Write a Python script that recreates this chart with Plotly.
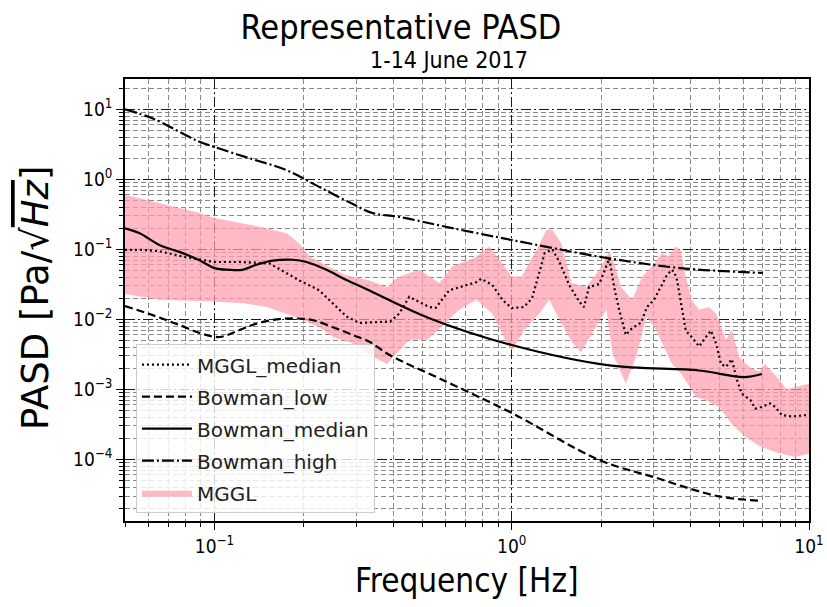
import plotly.graph_objects as go

# ---------------- data ----------------
bow_high_f = [0.05, 0.062, 0.087, 0.1, 0.131, 0.174, 0.225, 0.29, 0.34, 0.42, 0.6, 1.0, 2.1, 3.7, 7.0]
bow_high_v = [10, 7.4, 3.6, 2.9, 2.0, 1.36, 0.78, 0.45, 0.33, 0.29, 0.21, 0.136, 0.075, 0.054, 0.046]

bow_med_f = [0.05, 0.056, 0.0653, 0.0762, 0.089, 0.1, 0.112, 0.124, 0.138, 0.157, 0.183, 0.204,
             0.238, 0.278, 0.325, 0.528, 1.0, 2.13, 4.27, 6.04, 6.95]
bow_med_v = [0.2, 0.17, 0.115, 0.092, 0.070, 0.054, 0.051, 0.051, 0.060, 0.069, 0.071, 0.066,
             0.051, 0.0364, 0.027, 0.0104, 0.0043, 0.0022, 0.00186, 0.0015, 0.00166]

bow_low_f = [0.05, 0.0619, 0.0762, 0.091, 0.104, 0.118, 0.134, 0.157, 0.183, 0.213, 0.249, 0.291,
             0.332, 0.388, 0.6, 1.0, 1.97, 3.0, 4.98, 6.9]
bow_low_v = [0.0155, 0.0115, 0.0083, 0.0062, 0.0056, 0.0067, 0.0083, 0.0098, 0.0103, 0.0098, 0.0078,
             0.006, 0.0048, 0.0031, 0.0013, 0.00046, 9.8e-5, 5.6e-5, 2.96e-5, 2.57e-5]

mggl_med_f = [0.05, 0.058, 0.0653, 0.079, 0.1, 0.121, 0.153, 0.172, 0.193, 0.225, 0.25, 0.278, 0.307,
              0.39, 0.419, 0.452, 0.528, 0.555, 0.616, 0.666, 0.76, 0.79, 0.86, 0.93, 1.0, 1.10,
              1.17, 1.237, 1.29, 1.37, 1.444, 1.56, 1.686, 1.75, 1.82, 1.97, 2.04, 2.13, 2.21, 2.30,
              2.42, 2.54, 2.72, 2.85, 3.01, 3.18, 3.31, 3.44, 3.52, 3.60, 3.74, 3.85, 4.03, 4.27,
              4.50, 4.68, 4.87, 5.06, 5.26, 5.50, 5.71, 5.94, 6.36, 6.6, 6.9, 7.4, 7.7, 8.1, 8.75, 9.8]
mggl_med_v = [0.098, 0.098, 0.094, 0.078, 0.066, 0.066, 0.063, 0.047, 0.036, 0.026, 0.0168, 0.011,
              0.0089, 0.0093, 0.0122, 0.021, 0.015, 0.0146, 0.026, 0.029, 0.034, 0.038, 0.031, 0.019,
              0.0145, 0.015, 0.02, 0.046, 0.088, 0.1, 0.067, 0.031, 0.018, 0.015, 0.029, 0.032, 0.047,
              0.074, 0.029, 0.0135, 0.006, 0.0075, 0.0089, 0.015, 0.019, 0.029, 0.041, 0.051, 0.048,
              0.036, 0.015, 0.0069, 0.0056, 0.0041, 0.0056, 0.0069, 0.0045, 0.0023, 0.0021, 0.0027,
              0.0014, 0.00087, 0.0007, 0.00053, 0.00056, 0.00063, 0.00056, 0.00043, 0.00041, 0.00043]

band_up_f = [0.05, 0.0653, 0.089, 0.1, 0.142, 0.175, 0.193, 0.21, 0.244, 0.275, 0.332, 0.38, 0.419,
             0.489, 0.571, 0.63, 0.76, 0.84, 0.93, 1.0, 1.08, 1.21, 1.31, 1.37, 1.47, 1.59, 1.78,
             1.97, 2.13, 2.23, 2.33, 2.54, 2.75, 2.96, 3.2, 3.38, 3.56, 3.7, 3.85, 4.03, 4.27, 4.61,
             4.87, 5.26, 5.5, 5.82, 6.28, 6.79, 7.1, 7.93, 8.4, 9.26, 10.0]
band_up_v = [0.6, 0.46, 0.33, 0.28, 0.21, 0.17, 0.12, 0.078, 0.056, 0.043, 0.036, 0.029, 0.041,
             0.051, 0.033, 0.057, 0.078, 0.11, 0.063, 0.041, 0.041, 0.098, 0.19, 0.19, 0.12, 0.033,
             0.029, 0.051, 0.093, 0.057, 0.029, 0.019, 0.041, 0.057, 0.088, 0.08, 0.11, 0.098, 0.041,
             0.019, 0.0137, 0.015, 0.012, 0.0051, 0.0071, 0.0029, 0.0021, 0.0018, 0.0023, 0.0014,
             0.001, 0.0011, 0.0012]

band_lo_f = [0.05, 0.065, 0.1, 0.125, 0.15, 0.185, 0.225, 0.25, 0.29, 0.32, 0.38, 0.452, 0.52, 0.58,
             0.666, 0.76, 0.86, 0.95, 1.0, 1.1, 1.237, 1.336, 1.444, 1.6, 1.71, 1.86, 2.08, 2.18,
             2.42, 2.62, 2.84, 3.06, 3.46, 3.74, 4.18, 4.5, 4.98, 5.5, 6.1, 6.9, 7.93, 9.0, 10.0]
band_lo_v = [0.023, 0.019, 0.018, 0.017, 0.015, 0.011, 0.0078, 0.0056, 0.0046, 0.0034, 0.0023,
             0.0051, 0.0051, 0.0078, 0.0137, 0.019, 0.012, 0.0051, 0.0036, 0.007, 0.012, 0.019, 0.01,
             0.0046, 0.0034, 0.0063, 0.0137, 0.0033, 0.0012, 0.0029, 0.011, 0.007, 0.0023, 0.0016,
             0.00077, 0.0007, 0.00056, 0.00032, 0.00021, 0.00015, 0.000122, 0.000108, 0.00012]

x_tick_vals = [0.1, 1, 10]
x_tick_text = ["10<sup>\u22121</sup>", "10<sup>0</sup>", "10<sup>1</sup>"]
y_tick_vals = [1e-4, 1e-3, 1e-2, 1e-1, 1, 10]
y_tick_text = ["10<sup>\u22124</sup>", "10<sup>\u22123</sup>", "10<sup>\u22122</sup>",
               "10<sup>\u22121</sup>", "10<sup>0</sup>", "10<sup>1</sup>"]
x_minor = [m * 10 ** e for e in (-2, -1, 0) for m in range(2, 10)]
y_minor = [m * 10 ** e for e in range(-5, 2) for m in range(2, 10)]

FONT = "DejaVu Sans"
CFONT = "DejaVu Sans Condensed, DejaVu Sans"

fig = go.Figure()
fig.add_trace(go.Scatter(
    x=band_up_f + band_lo_f[::-1], y=band_up_v + band_lo_v[::-1],
    fill="toself", fillcolor="rgba(255,158,175,0.72)", line=dict(width=0, color="rgba(0,0,0,0)"),
    mode="lines", name="MGGL", legendrank=5, legendgroup="e", hoverinfo="skip"))
fig.add_trace(go.Scatter(x=mggl_med_f, y=mggl_med_v, mode="lines", name="MGGL_median",
                         line=dict(color="black", width=2.2, dash="2px,3px"), legendrank=1, legendgroup="a"))
fig.add_trace(go.Scatter(x=bow_low_f, y=bow_low_v, mode="lines", name="Bowman_low", line_shape="spline",
                         line=dict(color="black", width=2.2, dash="8px,4px"), legendrank=2, legendgroup="b"))
fig.add_trace(go.Scatter(x=bow_med_f, y=bow_med_v, mode="lines", name="Bowman_median", line_shape="spline",
                         line=dict(color="black", width=2.2), legendrank=3, legendgroup="c"))
fig.add_trace(go.Scatter(x=bow_high_f, y=bow_high_v, mode="lines", name="Bowman_high", line_shape="spline",
                         line=dict(color="black", width=2.2, dash="12px,3px,2px,3px"), legendrank=4, legendgroup="d"))

axis_common = dict(
    type="log", showline=True, linecolor="black", linewidth=1.5, mirror=True, automargin=False,
    ticks="outside", ticklen=7, tickwidth=1.2, tickcolor="black",
    showgrid=True, gridcolor="#1a1a1a", gridwidth=1, griddash="10px,3px,2px,3px",
    tickfont=dict(family=CFONT, size=19, color="black"), zeroline=False,
)
fig.update_xaxes(**axis_common, range=[-1.30103, 1.0], tickvals=x_tick_vals, ticktext=x_tick_text,
                 minor=dict(tickvals=x_minor, ticks="outside", ticklen=4, tickcolor="black", tickwidth=1,
                            showgrid=True, gridcolor="#8a8a8a", gridwidth=0.9, griddash="5px,3px"))
fig.update_yaxes(**axis_common, range=[-4.88, 1.433], tickvals=y_tick_vals, ticktext=y_tick_text,
                 minor=dict(tickvals=y_minor, ticks="outside", ticklen=4, tickcolor="black", tickwidth=1,
                            showgrid=True, gridcolor="#8a8a8a", gridwidth=0.9, griddash="5px,3px"))

fig.update_layout(
    width=827, height=607,
    margin=dict(l=125, r=18, t=79, b=86),
    paper_bgcolor="white", plot_bgcolor="white",
    font=dict(family=FONT, color="black"),
    title=dict(text="Representative PASD", x=401 / 827, xref="container", xanchor="center",
               y=1 - 27 / 607, yref="container", yanchor="middle",
               font=dict(family=CFONT, size=34, color="black")),
    showlegend=True,
    legend=dict(x=0.016, y=0.40, xanchor="left", yanchor="top",
                bgcolor="rgba(255,255,255,0.8)", bordercolor="#cccccc", borderwidth=1,
                font=dict(family=FONT, size=20, color="#222"), tracegroupgap=3,
                itemwidth=50),
    annotations=[
        dict(text="1-14 June 2017", xref="paper", yref="paper", x=(449 - 125) / 684, y=(521 - 60) / 442,
             xanchor="center", yanchor="middle", showarrow=False, font=dict(family=CFONT, size=23)),
        dict(text="Frequency [Hz]", xref="paper", yref="paper", x=0.5, y=-(580 - 521) / 442,
             xanchor="center", yanchor="middle", showarrow=False, font=dict(family=CFONT, size=33)),
        dict(text="PASD [Pa/\u221a<span style='text-decoration:overline'><i>Hz</i></span>]",
             xref="paper", yref="paper", x=-(125 - 35) / 684, y=(521 - 298) / 442, textangle=-90,
             xanchor="center", yanchor="middle", showarrow=False, font=dict(family=FONT, size=37)),
    ],
)

fig.write_html("out.html", config={"displayModeBar": False},
               post_script="document.body.style.margin='0px';")
